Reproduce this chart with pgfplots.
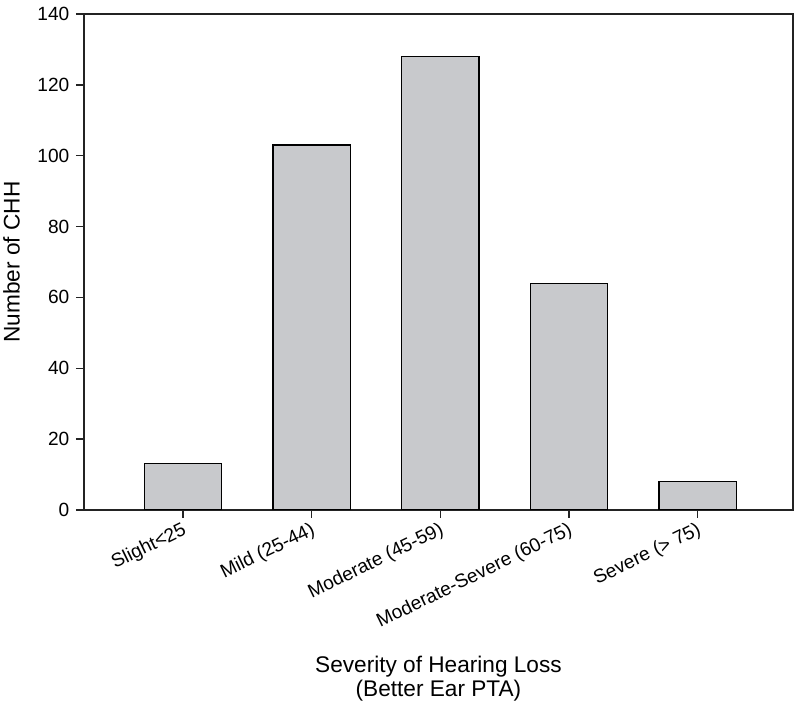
\documentclass[border=0pt]{standalone}
\usepackage{fontspec}
\setmainfont{Liberation Sans}
\usepackage{pgfplots}
\pgfplotsset{compat=1.18}
\definecolor{barfill}{RGB}{200,201,204}
\definecolor{axcol}{RGB}{35,35,35}
\begin{document}
\begin{tikzpicture}
\begin{axis}[
  width=705pt, height=493pt, scale only axis,
  xmin=-0.77, xmax=4.74, ymin=0, ymax=140,
  ytick={0,20,...,140},
  xtick={0,1,2,3,4},
  xticklabels={Slight<25,Mild (25-44),Moderate (45-59),Moderate-Severe (60-75),Severe (> 75)},
  tick label style={font=\fontsize{19}{22}\selectfont, text=black},
  x tick label style={rotate=26, anchor=north east, inner sep=1pt, yshift=-1pt, xshift=-2pt},
  y tick label style={xshift=-3pt},
  /pgf/number format/assume math mode=true,
  tick align=outside, tick pos=left,
  major tick length=8pt,
  axis line style={axcol, line width=1.3pt},
  every tick/.style={axcol, line width=1.3pt},
  xlabel={Severity of Hearing Loss\\(Better Ear PTA)},
  xlabel style={at={(axis description cs:0.5,-0.34)}, anchor=center, align=center, font=\fontsize{22.5}{24}\selectfont},
  ylabel={Number of CHH},
  ylabel style={at={(axis description cs:-0.102,0.5)}, anchor=center, font=\fontsize{22.5}{24}\selectfont},
  ybar, bar width=0.6,
]
\addplot[fill=barfill, draw=black, line width=1.3pt] coordinates {(0,13) (1,103) (2,128) (3,64) (4,8)};
\end{axis}
\draw[axcol, line width=1.3pt] (current axis.north west) -- (current axis.north east) -- (current axis.south east);
\path (current axis.north east) ++(7pt,14pt) coordinate (e);
\path (e) rectangle (e);
\end{tikzpicture}
\end{document}
